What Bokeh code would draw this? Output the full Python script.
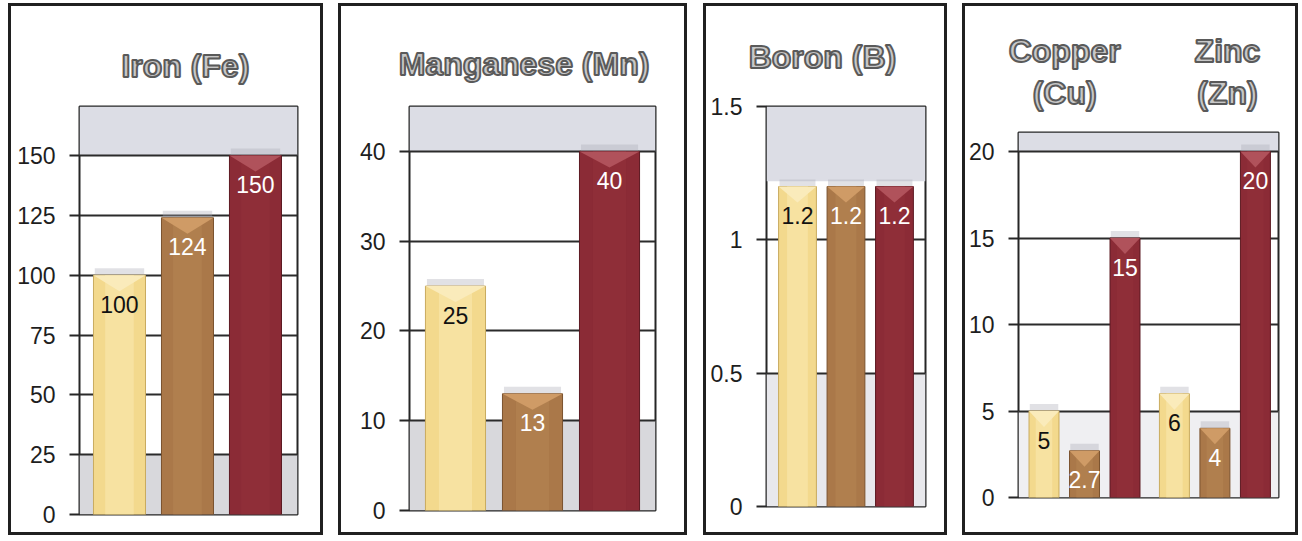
from bokeh.plotting import figure
from bokeh.models import (Range1d, FixedTicker, NumeralTickFormatter, BoxAnnotation,
                          LabelSet, ColumnDataSource, LinearAxis, CustomJSTickFormatter)
from bokeh.layouts import row, column
from bokeh.embed import file_html
from bokeh.resources import INLINE
from bokeh.core.properties import value

# ---------------- data ----------------
iron_values = [100, 124, 150]
manganese_values = [25, 13, 40]
boron_values = [1.2, 1.2, 1.2]
copper_values = [5, 2.7, 15]
zinc_values = [6, 4, 20]

iron_ticks = [0, 25, 50, 75, 100, 125, 150]
manganese_ticks = [0, 10, 20, 30, 40]
boron_ticks = [0, 0.5, 1, 1.5]
cuzn_ticks = [0, 5, 10, 15, 20]

iron_title = ["Iron (Fe)"]
manganese_title = ["Manganese (Mn)"]
boron_title = ["Boron (B)"]
cuzn_titles = ["Copper\n(Cu)", "Zinc\n(Zn)"]

# ---------------- styles ----------------
BAR_COLORS = ["#f3d98d", "#aa7849", "#8b2b36"]
BAR_CORES = ["#f7e3a6", "#b18150", "#902f3a"]
BAR_CAPS = ["#faebbb", "#cf9b66", "#b0525b"]
BAR_LINES = ["#c9ab5f", "#7a522e", "#5c1921"]
LABEL_COLORS = ["#111111", "#ffffff", "#ffffff"]
FONT = "Liberation Sans"
CAP_PX = 16
SHADOW_PX = 7


def fmt(v):
    return f"{v:g}"


def make_panel(width, height, margin, borders, xr, ymax, ticks, xs, values,
               colors, cores, caps, lines, lcolors, bar_width, title_x, title_text,
               title_standoff, bands, tick_fmt="0"):
    left, right, top, bottom = borders
    p = figure(width=width, height=height, x_range=Range1d(*xr), y_range=Range1d(0, ymax),
               output_backend="svg", toolbar_location=None,
               min_border_left=left, min_border_right=right,
               min_border_top=top, min_border_bottom=bottom,
               background_fill_color="white", border_fill_color="white",
               outline_line_color="#262626", outline_line_width=2,
               margin=margin,
               styles={"border": "3px solid #202020"})
    p.xaxis.visible = False
    p.xgrid.visible = False
    p.ygrid.ticker = FixedTicker(ticks=ticks)
    p.ygrid.grid_line_color = "#2b2b2b"
    p.ygrid.grid_line_width = 2
    ax = p.yaxis[0]
    ax.ticker = FixedTicker(ticks=ticks)
    ax.formatter = NumeralTickFormatter(format=tick_fmt)
    ax.axis_line_color = None
    ax.major_tick_line_color = "#262626"
    ax.major_tick_line_width = 2
    ax.major_tick_out = 10
    ax.major_tick_in = 0
    ax.minor_tick_line_color = None
    ax.major_label_standoff = 14
    ax.major_label_text_font = FONT
    ax.major_label_text_font_size = "23px"
    ax.major_label_text_color = "#1e1e1e"

    # title rendered as an unlined axis above the plot area
    tax = LinearAxis(ticker=FixedTicker(ticks=title_x),
                     formatter=CustomJSTickFormatter(args=dict(lbls=title_text),
                                                     code="return lbls[index];"),
                     axis_line_color=None, major_tick_line_color=None,
                     minor_tick_line_color=None, major_label_standoff=title_standoff,
                     major_label_text_font=FONT, major_label_text_font_size="32px",
                     major_label_text_font_style="bold",
                     major_label_text_color="#c8c8c8",
                     major_label_text_outline_color="#5a5a5a",
                     major_label_text_line_height=1.15)
    p.add_layout(tax, "above")

    for (b0, b1, c) in bands:
        p.add_layout(BoxAnnotation(bottom=b0, top=b1, fill_color=c, fill_alpha=1.0,
                                   line_color=None, level="image"))

    px_per_unit = (height - top - bottom) / ymax
    cap = CAP_PX / px_per_unit
    shadow = SHADOW_PX / px_per_unit
    hw = bar_width / 2
    src = ColumnDataSource(dict(x=xs, top=values, shtop=[v + shadow for v in values],
                                color=colors, core=cores, line=lines,
                                tcolor=lcolors, label=[fmt(v) for v in values]))
    # soft depth shadow above each bar
    p.vbar(x="x", top="shtop", bottom="top", width=bar_width * 0.95, source=src,
           fill_color="#a9aab4", fill_alpha=0.35, line_color=None)
    p.vbar(x="x", top="top", width=bar_width, bottom=0, source=src,
           fill_color="color", line_color="line", line_width=1)
    p.vbar(x="x", top="top", width=bar_width * 0.55, bottom=0, source=src,
           fill_color="core", fill_alpha=0.8, line_color=None)
    # bevelled top of each bar
    bsrc = ColumnDataSource(dict(
        xs=[[x - hw, x + hw, x] for x in xs],
        ys=[[v, v, v - cap] for v in values],
        color=caps))
    p.patches(xs="xs", ys="ys", source=bsrc, fill_color="color", line_color=None)
    p.add_layout(LabelSet(x="x", y="top", text="label", source=src, y_offset=-29,
                          text_align="center", text_baseline="middle",
                          text_color="tcolor", text_font=value(FONT),
                          text_font_size="23px"))
    return p


GRAY_TOP = "#dcdde5"
GRAY_BOT = "#d8d8dc"
H = 532

p1 = make_panel(315, H, (3, 0, 0, 8), (68, 29, 100, 24), (0.412, 3.618), 170.5, iron_ticks,
                [1, 2, 3], iron_values, BAR_COLORS, BAR_CORES, BAR_CAPS, BAR_LINES,
                LABEL_COLORS, 0.765, [1.97], iron_title, 17,
                [(150, 170.5, GRAY_TOP), (0, 25, GRAY_BOT)])

p2 = make_panel(349, H, (3, 0, 0, 15), (68, 35, 100, 28), (0.403, 3.597), 45.0,
                manganese_ticks, [1, 2, 3], manganese_values, BAR_COLORS, BAR_CORES,
                BAR_CAPS, BAR_LINES, LABEL_COLORS, 0.78, [1.89], manganese_title, 19,
                [(40, 45.0, GRAY_TOP), (0, 10, GRAY_BOT)])

p3 = make_panel(244, H, (3, 0, 0, 16), (60, 25, 100, 32), (0.361, 3.64), 1.5, boron_ticks,
                [1, 2, 3], boron_values, BAR_COLORS, BAR_CORES, BAR_CAPS, BAR_LINES,
                LABEL_COLORS, 0.78, [1.515], boron_title, 26,
                [(1.22, 1.5, GRAY_TOP), (0, 0.5, "#e8e8ec")], tick_fmt="0.[0]")

group_offset = 3.22
cuzn_x = [0, 1, 2] + [group_offset + i for i in range(3)]
p4 = make_panel(336, H, (3, 0, 0, 15), (53, 23, 126, 41), (-0.63, 5.79), 21.1, cuzn_ticks,
                cuzn_x, copper_values + zinc_values, BAR_COLORS * 2, BAR_CORES * 2,
                BAR_CAPS * 2, BAR_LINES * 2, LABEL_COLORS * 2, 0.74, [0.51, 4.53],
                cuzn_titles, 16,
                [(20, 21.1, GRAY_TOP), (0, 5, "#efeff2")])

layout = row(column(p1), column(p2), column(p3), column(p4), spacing=0)
open("out.html", "w").write(file_html(layout, INLINE))
